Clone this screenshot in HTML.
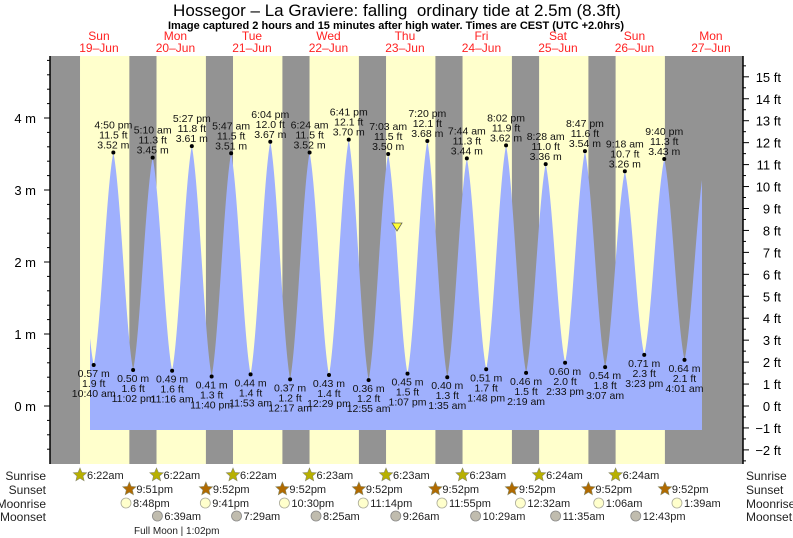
<!DOCTYPE html>
<html><head><meta charset="utf-8"><style>
body{margin:0;background:#fff;}
svg{display:block;font-family:"Liberation Sans",sans-serif;}
</style></head><body>
<svg id="s" width="793" height="538" xmlns="http://www.w3.org/2000/svg"></svg>
<script>
const S=document.getElementById('s');
let h='';
const X0=59.7,DW=76.5,PH=DW/24;
const tx=(d,hr)=>X0+d*DW+hr*PH;
const Y=m=>406-m*72;
const L=50,R=743,T=56,B=464;
h+=`<rect x="${L}" y="${T}" width="${R-L}" height="${B-T}" fill="#ffffcc"/>`;
const sr=[6.37,6.37,6.37,6.38,6.38,6.38,6.4,6.4];
const ss=[21.85,21.87,21.87,21.87,21.87,21.87,21.87,21.87];
let prev=L;
for(let d=0;d<8;d++){let a=tx(d,sr[d]);h+=`<rect x="${prev}" y="${T}" width="${a-prev}" height="${B-T}" fill="#939393"/>`;prev=tx(d,ss[d]);}
h+=`<rect x="${prev}" y="${T}" width="${R-prev}" height="${B-T}" fill="#939393"/>`;
const ex=[
[0,4.5,3.4,'H'],
[0,10+40/60,0.57,'L','10:40 am'],[0,16+50/60,3.52,'H','4:50 pm'],[0,23+2/60,0.50,'L','11:02 pm'],
[1,5+10/60,3.45,'H','5:10 am'],[1,11+16/60,0.49,'L','11:16 am'],[1,17+27/60,3.61,'H','5:27 pm'],[1,23+40/60,0.41,'L','11:40 pm'],
[2,5+47/60,3.51,'H','5:47 am'],[2,11+53/60,0.44,'L','11:53 am'],[2,18+4/60,3.67,'H','6:04 pm'],
[3,17/60,0.37,'L','12:17 am'],[3,6+24/60,3.52,'H','6:24 am'],[3,12+29/60,0.43,'L','12:29 pm'],[3,18+41/60,3.70,'H','6:41 pm'],
[4,55/60,0.36,'L','12:55 am'],[4,7+3/60,3.50,'H','7:03 am'],[4,13+7/60,0.45,'L','1:07 pm'],[4,19+20/60,3.68,'H','7:20 pm'],
[5,1+35/60,0.40,'L','1:35 am'],[5,7+44/60,3.44,'H','7:44 am'],[5,13+48/60,0.51,'L','1:48 pm'],[5,20+2/60,3.62,'H','8:02 pm'],
[6,2+19/60,0.46,'L','2:19 am'],[6,8+28/60,3.36,'H','8:28 am'],[6,14+33/60,0.60,'L','2:33 pm'],[6,20+47/60,3.54,'H','8:47 pm'],
[7,3+7/60,0.54,'L','3:07 am'],[7,9+18/60,3.26,'H','9:18 am'],[7,15+23/60,0.71,'L','3:23 pm'],[7,21+40/60,3.43,'H','9:40 pm'],
[8,4+1/60,0.64,'L','4:01 am'],[8,10.3,3.35,'H']];
const pts=ex.map(e=>[tx(e[0],e[1]),e[2]]);
const x1=90,x2=702;
let path=`M${x1},430`;
for(let x=x1;x<=x2;x+=0.5){
 let i=0;while(i<pts.length-2&&pts[i+1][0]<x)i++;
 const [xa,ma]=pts[i],[xb,mb]=pts[i+1];
 const f=(x-xa)/(xb-xa);const g=0.55*(1-Math.cos(Math.PI*f))/2+0.45*f;const m=ma+(mb-ma)*g;
 path+=`L${x.toFixed(1)},${Y(m).toFixed(1)}`;
}
path+=`L${x2},430Z`;
h+=`<path d="${path}" fill="#9fb0fd"/>`;
const ft=m=>(m*3.28084).toFixed(1);
ex.forEach(e=>{if(!e[4])return;const x=tx(e[0],e[1]),y=Y(e[2]);
 h+=`<circle cx="${x}" cy="${y}" r="2" fill="#000"/>`;
 const st=`font-size="10.5" text-anchor="middle" fill="#111"`;
 if(e[3]=='H'){h+=`<text x="${x}" y="${y-4}" ${st}>${e[2].toFixed(2)} m</text><text x="${x}" y="${y-14}" ${st}>${ft(e[2])} ft</text><text x="${x}" y="${y-24}" ${st}>${e[4]}</text>`;}
 else{h+=`<text x="${x}" y="${y+12}" ${st}>${e[2].toFixed(2)} m</text><text x="${x}" y="${y+22}" ${st}>${ft(e[2])} ft</text><text x="${x}" y="${y+32}" ${st}>${e[4]}</text>`;}
});
h+=`<polygon points="392,223 402,223 397,231" fill="#ffff33" stroke="#665" stroke-width="0.8"/>`;
h+=`<line x1="${L}" y1="${T}" x2="${L}" y2="${B}" stroke="#000" stroke-width="1.5"/><line x1="${R}" y1="${T}" x2="${R}" y2="${B}" stroke="#000" stroke-width="1.5"/>`;
for(let m=-0.6;m<=4.81;m+=0.2){const y=Y(m);const maj=Math.abs(m-Math.round(m))<0.01;h+=`<line x1="${L-(maj?6:3)}" y1="${y}" x2="${L}" y2="${y}" stroke="#000"/>`;
 if(maj)h+=`<text x="36" y="${y+5}" font-size="13" text-anchor="end">${Math.round(m)} m</text>`;}
for(let f=-2.5;f<=15.6;f+=0.5){const y=406-f*0.3048*72;const maj=Math.abs(f-Math.round(f))<0.01;h+=`<line x1="${R}" y1="${y}" x2="${R+(maj?6:3)}" y2="${y}" stroke="#000"/>`;
 if(maj){const v=Math.round(f);h+=`<text x="781" y="${y+5}" font-size="13" text-anchor="end">${v<0?'\u2212'+(-v):v} ft</text>`;}}
h+=`<text x="397" y="16" font-size="17" text-anchor="middle" xml:space="preserve">Hossegor \u2013 La Graviere: falling  ordinary tide at 2.5m (8.3ft)</text>`;
h+=`<text x="396" y="29" font-size="11" font-weight="bold" text-anchor="middle">Image captured 2 hours and 15 minutes after high water. Times are CEST (UTC +2.0hrs)</text>`;
const dn=['Sun','Mon','Tue','Wed','Thu','Fri','Sat','Sun','Mon'];
for(let d=0;d<9;d++){const x=tx(d,12)+1;h+=`<text x="${x}" y="40" font-size="12" fill="#ff2222" text-anchor="middle">${dn[d]}</text><text x="${x}" y="52" font-size="12" fill="#ff2222" text-anchor="middle">${19+d}\u2013Jun</text>`;}
const rows=[['Sunrise',475],['Sunset',489],['Moonrise',503],['Moonset',516]];
rows.forEach(r=>{h+=`<text x="46" y="${r[1]+5}" font-size="12" text-anchor="end" fill="#222">${r[0]}</text><text x="746" y="${r[1]+5}" font-size="12" fill="#222">${r[0]}</text>`;});
const star=(x,y,c)=>{let p=[];for(let i=0;i<10;i++){const a=-Math.PI/2+i*Math.PI/5,rr=i%2?3.2:7;p.push((x+rr*Math.cos(a)).toFixed(1)+','+(y+rr*Math.sin(a)).toFixed(1));}return `<polygon points="${p.join(' ')}" fill="${c}" stroke="#886" stroke-width="0.6"/>`;};
const srt=['6:22am','6:22am','6:22am','6:23am','6:23am','6:23am','6:24am','6:24am'];
const sst=['9:51pm','9:52pm','9:52pm','9:52pm','9:52pm','9:52pm','9:52pm','9:52pm'];
const lab=(x,y,t)=>`<text x="${x+7}" y="${y+4}" font-size="11" fill="#222">${t}</text>`;
for(let d=0;d<8;d++){let x=tx(d,sr[d]);h+=star(x,475,'#b8b000')+lab(x,475,srt[d]);x=tx(d,ss[d]);h+=star(x,489,'#b06a00')+lab(x,489,sst[d]);}
const mr=[[0,20.8,'8:48pm'],[1,21.68,'9:41pm'],[2,22.5,'10:30pm'],[3,23.23,'11:14pm'],[4,23.92,'11:55pm'],[6,0.53,'12:32am'],[7,1.1,'1:06am'],[8,1.65,'1:39am']];
mr.forEach(m=>{const x=tx(m[0],m[1]);h+=`<circle cx="${x}" cy="503" r="5" fill="#ffffcc" stroke="#aa9" stroke-width="0.8"/>`+lab(x,503,m[2]);});
const ms=[[1,6.65,'6:39am'],[2,7.48,'7:29am'],[3,8.42,'8:25am'],[4,9.43,'9:26am'],[5,10.48,'10:29am'],[6,11.58,'11:35am'],[7,12.72,'12:43pm']];
ms.forEach(m=>{const x=tx(m[0],m[1]);h+=`<circle cx="${x}" cy="516" r="5" fill="#c0bcae" stroke="#888" stroke-width="0.8"/>`+lab(x,516,m[2]);});
h+=`<text x="134" y="534" font-size="10" fill="#222">Full Moon | 1:02pm</text>`;
S.innerHTML=h;
</script>
</body></html>
